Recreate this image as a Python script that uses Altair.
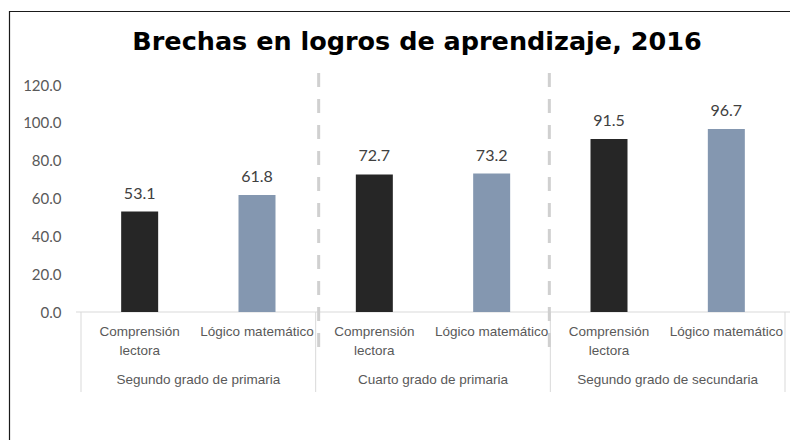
import altair as alt
import pandas as pd

# ---- data ----
grupos = ["Segundo grado de primaria", "Cuarto grado de primaria", "Segundo grado de secundaria"]
areas = ["Comprensión lectora", "Lógico matemático"]
area_linea1 = ["Comprensión", "Lógico matemático"]
area_linea2 = ["lectora", ""]
comprension = [53.1, 72.7, 91.5]
logico = [61.8, 73.2, 96.7]
titulo = "Brechas en logros de aprendizaje, 2016"
y_ticks = [0, 20, 40, 60, 80, 100, 120]

rows = []
for g, grupo in enumerate(grupos):
    for a, serie in enumerate([comprension, logico]):
        rows.append({"pos": 2 * g + a, "grupo": grupo, "area": areas[a],
                     "l1": area_linea1[a], "l2": area_linea2[a], "valor": serie[g]})
df = pd.DataFrame(rows)
df_grupos = pd.DataFrame({"centro": [2 * g + 0.5 for g in range(len(grupos))], "grupo": grupos})
df_sep = pd.DataFrame({"borde": [-0.5, 1.5, 3.5, 5.5]})
df_dash1 = pd.DataFrame({"borde": [1.5]})
df_dash2 = pd.DataFrame({"borde": [3.5]})

W, H = 714, 227
xscale = alt.Scale(domain=[-0.5, 5.5], nice=False, zero=False)
yscale = alt.Scale(domain=[0, 120], nice=False)
base_font = "Lato"
label_font = "Liberation Sans"

y_axis = alt.Axis(values=y_ticks, format=".1f", title=None, domain=False,
                  ticks=False, tickSize=0, grid=False, labelPadding=15, labelOverlap=False,
                  labelColor="#595959", labelFontSize=15, labelFont=base_font)

x_enc = alt.X("pos:Q", scale=xscale, axis=None)

bars = alt.Chart(df).mark_bar(width=37).encode(
    x=x_enc,
    y=alt.Y("valor:Q", scale=yscale, axis=y_axis),
    color=alt.Color("area:N", scale=alt.Scale(domain=areas, range=["#262626", "#8497B0"]), legend=None),
)

vals = alt.Chart(df).mark_text(baseline="alphabetic", dy=-13, fontSize=16, font=base_font,
                               color="#404040").encode(
    x=x_enc, y=alt.Y("valor:Q", scale=yscale, axis=y_axis),
    text=alt.Text("valor:Q", format=".1f"))

axis_line = alt.Chart(df_dash1).mark_rule(color="#d9d9d9", strokeWidth=1).encode(
    x=alt.value(0), x2=alt.value(W), y=alt.value(H))

seps = alt.Chart(df_sep).mark_rule(color="#d9d9d9", strokeWidth=1).encode(
    x=alt.X("borde:Q", scale=xscale, axis=None), y=alt.value(H), y2=alt.value(H + 80))

dash1 = alt.Chart(df_dash1).mark_rule(color="#d0d0d0", strokeWidth=3, strokeDash=[14, 12], xOffset=3).encode(
    x=alt.X("borde:Q", scale=xscale, axis=None), y=alt.value(-12), y2=alt.value(273))
dash2 = alt.Chart(df_dash2).mark_rule(color="#d0d0d0", strokeWidth=3, strokeDash=[14, 12], xOffset=-1).encode(
    x=alt.X("borde:Q", scale=xscale, axis=None), y=alt.value(-12), y2=alt.value(273))

cat1 = alt.Chart(df).mark_text(baseline="middle", fontSize=13.5, font=label_font, color="#595959").encode(
    x=x_enc, y=alt.value(247), text="l1:N")
cat2 = alt.Chart(df).mark_text(baseline="middle", fontSize=13.5, font=label_font, color="#595959").encode(
    x=x_enc, y=alt.value(266), text="l2:N")

grp_labels = alt.Chart(df_grupos).mark_text(baseline="middle", fontSize=13.5, font=label_font,
                                            color="#595959").encode(
    x=alt.X("centro:Q", scale=xscale, axis=None), y=alt.value(295), text="grupo:N")

frame = alt.Chart(df_dash1).mark_rect(fill="transparent", stroke="#1a1a1a", strokeWidth=1.2).encode(
    x=alt.value(-66.5), x2=alt.value(760), y=alt.value(-73.5), y2=alt.value(420))

title = alt.Chart(pd.DataFrame({"t": [titulo]})).mark_text(
    baseline="alphabetic", align="center", fontSize=25.5, fontWeight="bold",
    font="DejaVu Sans", color="#000000").encode(
    x=alt.value(341), y=alt.value(-35), text="t:N")

chart = alt.layer(frame, axis_line, seps, dash1, dash2, bars, vals, cat1, cat2, grp_labels, title).properties(
    width=W, height=H,
    autosize=alt.AutoSizeParams(type="none"),
    padding={"left": 68, "top": 77, "right": 0, "bottom": 128},
).configure_view(stroke=None)

chart.save("out.html", embed_options={"renderer": "svg", "actions": False})
